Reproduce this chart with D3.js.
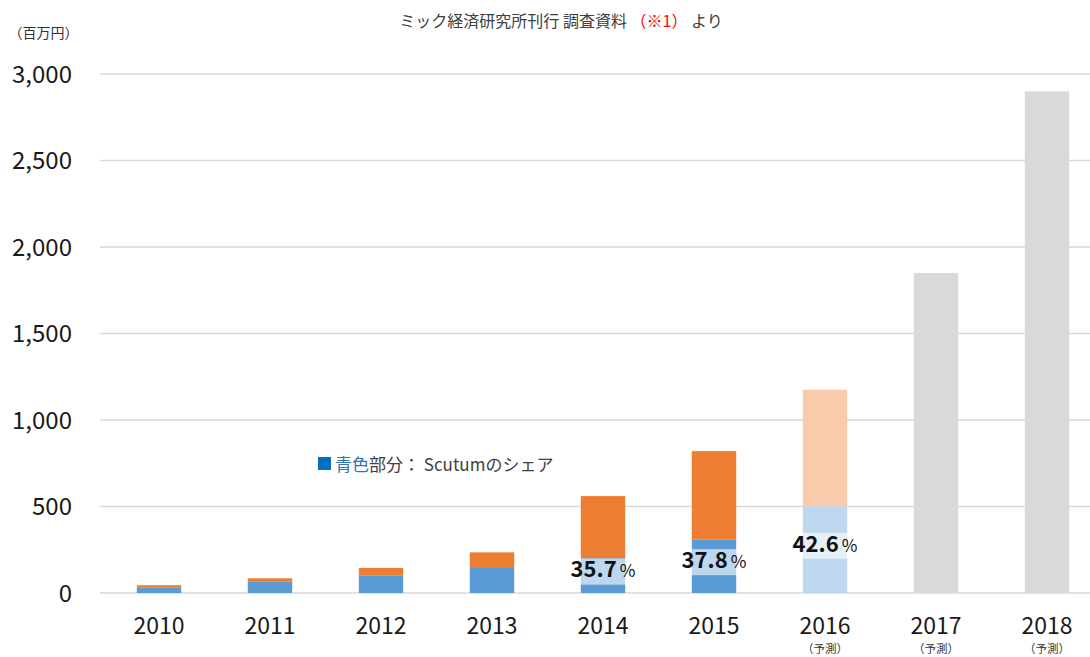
<!DOCTYPE html>
<html><head><meta charset="utf-8">
<script src="https://cdn.jsdelivr.net/npm/d3@7"></script>
<style>
html,body{margin:0;padding:0;background:#fff;}
svg{display:block;font-family:"Noto Sans CJK JP","Noto Sans",sans-serif;}
</style></head>
<body>
<script>
const years = ["2010","2011","2012","2013","2014","2015","2016","2017","2018"];
const forecastFlags = [false,false,false,false,false,false,true,true,true];
const totalValues = [45, 85, 145, 235, 560, 820, 1175, 1850, 2900];
const scutumValues = [30, 65, 100, 150, 200, 310, 500, null, null];
const shareLabels = [null, null, null, null, "35.7", "37.8", "42.6", null, null];
const yTicks = [0, 500, 1000, 1500, 2000, 2500, 3000];

const W = 1090, H = 657;
const svg = d3.select("body").append("svg").attr("width", W).attr("height", H);

const x = d3.scaleBand().domain(years).range([103.5, 1102.5]).paddingInner(0.6).paddingOuter(0.3);
const y = d3.scaleLinear().domain([0, 3000]).range([593, 74]);

// gridlines
svg.append("g").selectAll("line").data(yTicks).join("line")
  .attr("x1", 100).attr("x2", W)
  .attr("y1", d => y(d)).attr("y2", d => y(d))
  .attr("stroke", "#d9d9d9").attr("stroke-width", 1.3);

// y axis labels
const yAxis = d3.axisLeft(y).tickValues(yTicks).tickFormat(d3.format(",")).tickSize(0).tickPadding(0);
const ya = svg.append("g").attr("transform", "translate(72,0)").call(yAxis);
ya.select(".domain").remove();
ya.selectAll("text").attr("font-size", 24).attr("fill", "#1a1a1a")
  .attr("font-family", "'Noto Sans CJK JP',sans-serif").attr("dy", "0.35em");

svg.append("text").attr("x", 43.5).attr("y", 38).attr("text-anchor", "middle")
  .attr("font-size", 14).attr("fill", "#333").text("（百万円）");

// bars
const bw = x.bandwidth();
const data = years.map((yr, i) => ({yr, total: totalValues[i], blue: scutumValues[i], fc: forecastFlags[i], label: shareLabels[i]}));
const g = svg.append("g");
data.forEach(d => {
  if (d.blue == null) {
    g.append("rect").attr("x", x(d.yr)).attr("width", bw)
      .attr("y", y(d.total)).attr("height", y(0) - y(d.total)).attr("fill", "#d9d9d9");
  } else {
    g.append("rect").attr("x", x(d.yr)).attr("width", bw)
      .attr("y", y(d.total)).attr("height", y(d.blue) - y(d.total))
      .attr("fill", d.fc ? "#f8cbad" : "#ed7d31");
    g.append("rect").attr("x", x(d.yr)).attr("width", bw)
      .attr("y", y(d.blue)).attr("height", y(0) - y(d.blue))
      .attr("fill", d.fc ? "#bdd7ee" : "#5b9bd5");
  }
});

// share labels
data.filter(d => d.label).forEach(d => {
  const cx = x(d.yr) + bw / 2;
  const cy = y(d.blue / 2) - 4;
  svg.append("rect").attr("x", cx - 34).attr("width", 68)
    .attr("y", cy - 13).attr("height", 26).attr("fill", "#ffffff").attr("fill-opacity", 0.6);
  const t = svg.append("text").attr("x", cx).attr("y", cy).attr("dy", "0.36em")
    .attr("text-anchor", "middle").attr("fill", "#111");
  t.append("tspan").attr("font-size", 22).attr("font-weight", "bold").text(d.label);
  t.append("tspan").attr("font-size", 17).attr("dx", 3).text("%");
});

// x labels
const xl = svg.append("g");
data.forEach(d => {
  const cx = x(d.yr) + bw / 2;
  xl.append("text").attr("x", cx).attr("y", 634).attr("text-anchor", "middle")
    .attr("font-size", 23).attr("fill", "#1a1a1a").text(d.yr);
  if (d.fc) {
    xl.append("text").attr("x", cx).attr("y", 653).attr("text-anchor", "middle")
      .attr("font-size", 11.5).attr("fill", "#333").text("（予測）");
  }
});

// title
const title = svg.append("text").attr("x", 561).attr("y", 27).attr("text-anchor", "middle")
  .attr("font-size", 16).attr("fill", "#404040");
title.append("tspan").text("ミック経済研究所刊行 調査資料 ");
title.append("tspan").attr("fill", "#ff0000").text("（※1）");
title.append("tspan").text(" より");

// legend
svg.append("rect").attr("x", 318).attr("y", 457).attr("width", 13).attr("height", 13).attr("fill", "#0070c0");
const lg = svg.append("text").attr("x", 335).attr("y", 471).attr("font-size", 17).attr("fill", "#404040");
lg.append("tspan").attr("fill", "#2e75b6").text("青色");
lg.append("tspan").text("部分：  Scutumのシェア");
</script>
</body></html>
